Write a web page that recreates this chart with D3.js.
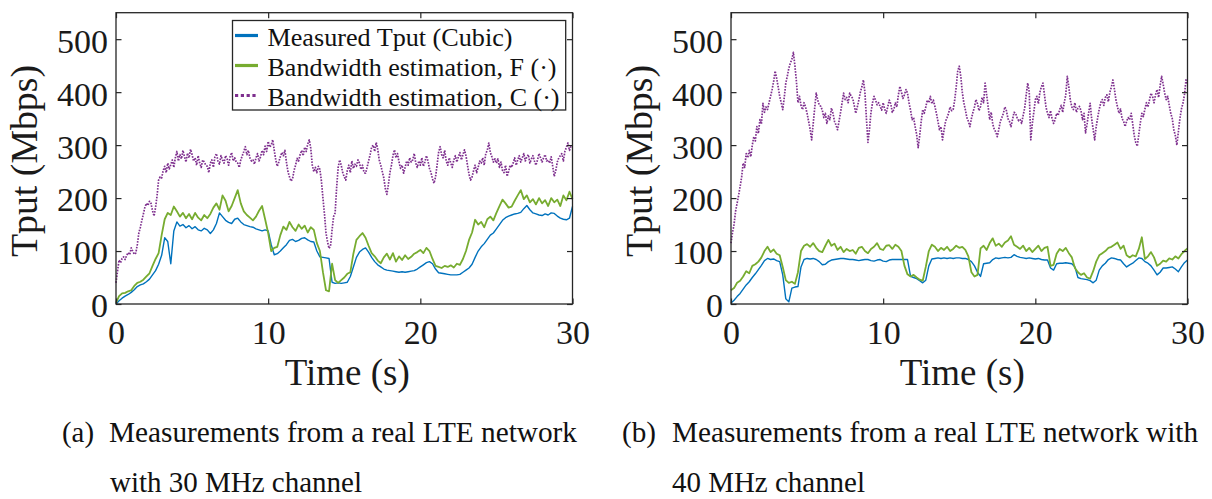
<!DOCTYPE html>
<html><head><meta charset="utf-8">
<script src="https://cdn.jsdelivr.net/npm/d3@7"></script>
<style>
body{margin:0;background:#fff}
svg{display:block}
</style>
</head><body>
<svg id="chart" width="1212" height="499"></svg>
<script>
// ---------- data ----------
const coarseStep = 0.2;   // seconds between samples of measured / F series
const fineStep = 0.1;     // seconds between samples of C series
const xTicks = [0, 10, 20, 30];
const yTicks = [0, 100, 200, 300, 400, 500];
const seriesNames = ["Measured Tput (Cubic)", "Bandwidth estimation, F (\u00B7)", "Bandwidth estimation, C (\u00B7)"];
const xLabel = "Time (s)";
const yLabel = "Tput (Mbps)";
const captionA = ["(a)", "Measurements from a real LTE network", "with 30 MHz channel"];
const captionB = ["(b)", "Measurements from a real LTE network with", "40 MHz channel"];

// panel (a): 30 MHz
const measuredA = [
0,6,11,15,18,22,27,33,36,38,
42,47,55,63,75,92,125,118,76,138,
155,147,150,144,148,142,146,140,138,143,
140,133,140,152,172,165,158,154,152,160,
162,155,150,148,146,145,142,140,138,140,
138,112,93,95,100,106,112,120,122,118,
120,124,125,121,118,117,100,89,88,87,
86,41,39,40,39,40,41,52,70,88,
98,103,106,98,88,80,74,70,66,64,
63,62,61,60,61,60,61,62,63,66,
70,74,78,80,76,66,59,58,57,56,
55,55,55,56,60,64,68,75,88,100,
108,114,122,130,134,142,150,158,163,166,
168,170,171,173,180,186,178,172,170,168,
167,170,168,172,171,166,162,160,159,162,
184];
const estFA = [
2,15,20,21,24,26,34,40,42,46,
52,58,72,85,96,130,160,172,168,184,
175,165,172,162,170,160,172,163,158,168,
162,170,182,190,178,205,195,175,185,200,
215,190,175,168,163,158,165,176,185,160,
134,100,106,108,130,146,140,155,145,138,
150,142,148,135,145,140,115,100,60,26,
24,76,45,40,45,50,57,60,95,121,
128,134,125,110,96,90,82,77,88,95,
84,96,80,90,83,92,85,89,95,98,
102,96,106,100,85,72,70,68,72,70,
73,69,76,74,85,100,121,135,159,150,
155,145,160,165,158,172,185,197,190,182,
184,195,205,215,198,205,192,198,188,200,
190,196,185,200,192,197,185,205,196,212,
198];
const estCA = [
40,62,83,78,86,89,84,92,97,93,
106,100,94,96,112,134,145,158,170,183,
190,186,194,190,176,166,182,205,234,240,
238,252,260,248,266,255,263,272,258,276,
288,270,282,274,290,278,268,285,276,292,
282,270,276,262,280,266,258,272,268,262,
260,248,266,272,258,278,284,270,264,280,
272,266,280,274,262,278,286,270,276,268,
266,258,272,280,288,297,282,290,276,270,
272,264,276,284,270,278,290,282,298,288,
307,296,300,310,290,272,260,268,278,286,
280,290,268,250,240,232,236,252,262,275,
270,282,290,280,296,288,302,310,294,262,
250,258,248,260,254,232,200,170,134,118,
105,110,140,165,172,220,258,272,262,248,
240,234,252,262,248,270,256,264,260,272,
266,254,262,248,247,258,270,282,296,300,
288,305,292,272,262,250,238,218,207,225,
248,262,280,291,276,284,268,256,262,247,
258,270,262,276,268,272,284,266,258,270,
262,276,260,268,280,270,256,248,236,228,
240,262,286,297,282,276,290,270,262,276,
266,258,272,280,268,278,286,272,282,291,
280,262,245,234,240,252,262,248,258,270,
266,276,262,284,290,304,286,278,268,274,
266,274,258,268,252,248,262,241,250,262,
258,266,276,262,272,280,268,276,284,270,
278,282,266,274,280,270,262,272,284,276,
268,276,282,270,272,266,278,260,241,252,
268,276,280,284,270,288,296,304,290,298,
297];

// panel (b): 40 MHz
const measuredB = [
2,7,14,20,28,36,42,50,57,65,
73,82,86,84,85,82,80,55,10,4,
30,32,33,70,84,86,85,86,84,80,
74,75,80,83,84,85,86,86,85,84,
84,83,82,83,84,84,82,81,83,84,
81,80,83,84,84,84,84,84,84,52,
50,48,44,40,45,72,85,86,87,86,
87,86,87,86,87,87,86,86,84,80,
72,60,52,76,77,78,84,87,86,87,
88,87,88,93,90,88,87,86,87,86,
85,86,84,83,83,68,64,76,77,77,
78,77,76,70,50,48,47,46,44,40,
45,64,72,77,84,87,86,84,83,76,
70,74,77,82,87,86,80,77,72,64,
55,60,68,68,69,70,66,61,70,78,
83];
const estFB = [
26,30,40,44,52,62,58,72,75,80,
88,100,108,98,103,95,92,70,45,40,
42,38,60,100,110,113,108,115,106,100,
98,110,121,110,114,102,108,98,104,100,
102,95,106,108,100,96,104,108,115,104,
102,110,111,104,112,108,100,72,56,52,
55,50,46,44,70,100,112,108,100,106,
102,108,100,104,110,106,108,102,90,60,
52,55,105,110,102,115,124,110,114,108,
116,120,128,112,108,104,110,100,106,98,
104,110,100,106,108,72,74,95,104,100,
106,96,88,68,60,55,58,50,48,62,
80,92,96,100,106,108,112,116,104,110,
92,88,92,90,104,126,85,90,98,88,
72,76,82,80,86,84,90,86,94,100,
105];
const estCB = [
115,135,150,175,190,205,222,240,266,258,
284,276,290,278,300,316,308,335,322,348,
340,379,362,372,367,380,392,405,420,440,
426,410,392,380,367,390,417,430,445,455,
462,475,450,420,380,392,375,367,380,372,
360,345,330,310,340,370,398,385,376,373,
366,352,360,341,355,348,370,360,345,338,
329,345,362,380,398,386,390,380,398,392,
388,375,360,372,385,400,410,423,400,350,
305,330,362,380,392,385,376,380,373,366,
380,368,360,372,385,378,362,367,380,372,
395,411,400,388,395,405,398,380,366,348,
352,335,320,295,318,345,367,360,372,385,
380,392,378,385,373,360,345,329,335,310,
328,345,352,360,372,365,367,385,410,440,
449,430,400,380,367,352,345,335,350,362,
372,386,378,365,373,390,380,417,395,372,
348,362,340,330,325,316,330,345,352,360,
372,365,350,345,335,348,362,360,352,346,
348,341,356,370,395,417,400,310,340,362,
386,392,378,400,410,417,395,372,360,352,
365,350,341,348,360,356,367,375,362,380,
395,430,410,385,372,367,380,362,370,373,
365,348,360,323,340,360,379,350,330,310,
335,352,368,380,386,375,390,395,382,400,
410,423,405,385,372,360,368,350,345,335,
345,352,348,360,340,318,305,298,320,342,
360,354,368,380,372,385,398,392,380,395,
405,390,412,430,415,398,386,392,375,360,
350,329,318,300,325,350,368,379,395,423,
415];

// ---------- font selection ----------
const fontCandidates = ["Liberation Serif", "Tinos", "Times New Roman", "Nimbus Roman", "Nimbus Roman No9 L",
                        "FreeSerif", "Noto Serif", "DejaVu Serif"];
const timesMetric = new Set(["Liberation Serif", "Tinos", "Times New Roman", "Nimbus Roman", "Nimbus Roman No9 L", "FreeSerif"]);
function fontAvailable(name) {
  const c = document.createElement("canvas").getContext("2d");
  const s = "Measurements from a real LTE network 0123456789 (Mbps)";
  let diff = false;
  ["monospace", "sans-serif"].forEach(fb => {
    c.font = `72px ${fb}`; const w0 = c.measureText(s).width;
    c.font = `72px "${name}", ${fb}`; const w1 = c.measureText(s).width;
    if (Math.abs(w0 - w1) > 0.5) diff = true;
  });
  return diff;
}
const chosenFont = fontCandidates.find(fontAvailable) || "serif";
const fontFamily = `"${chosenFont}", serif`;
const sizeScale = timesMetric.has(chosenFont) ? 1 : 0.93;

// force a reference width
function fitWidth(sel, w) {
  sel.attr("textLength", w).attr("lengthAdjust", "spacingAndGlyphs");
}

// ---------- drawing ----------
const colors = {measured: "#0072BD", estF: "#77AC30", estC: "#7E2F8E"};
const axisColor = "#262626";
const textColor = "#1a1a1a";
const svg = d3.select("#chart").attr("font-family", fontFamily);

const plotTop = 12.7, plotBottom = 304, plotWidth = 456.5;

function drawPanel(x0, measured, estF, estC, caption, capX, capWidths, withLegend) {
  const x = d3.scaleLinear().domain([0, 30]).range([x0, x0 + plotWidth]);
  const y = d3.scaleLinear().domain([0, 550]).range([plotBottom, plotTop]);
  const g = svg.append("g");

  const lineGen = (step) => d3.line().x((d, i) => x(i * step)).y(d => y(d));

  g.append("path").datum(measured).attr("fill", "none")
    .attr("stroke", colors.measured).attr("stroke-width", 1.4)
    .attr("stroke-linejoin", "round").attr("d", lineGen(coarseStep));
  g.append("path").datum(estF).attr("fill", "none")
    .attr("stroke", colors.estF).attr("stroke-width", 1.8)
    .attr("stroke-linejoin", "round").attr("d", lineGen(coarseStep));
  g.append("path").datum(estC).attr("fill", "none")
    .attr("stroke", colors.estC).attr("stroke-width", 1.7)
    .attr("stroke-dasharray", "1.6,1.3")
    .attr("stroke-linejoin", "round").attr("d", lineGen(fineStep));

  // axes
  const ax = (sel) => sel.attr("color", axisColor)
    .attr("font-family", fontFamily)
    .attr("font-size", 34 * sizeScale);
  const gb = g.append("g").attr("transform", `translate(0,${plotBottom})`)
    .call(d3.axisBottom(x).tickValues(xTicks).tickSizeInner(-5.5).tickSizeOuter(0).tickPadding(16))
    .call(ax);
  const gl = g.append("g").attr("transform", `translate(${x0},0)`)
    .call(d3.axisLeft(y).tickValues(yTicks).tickSizeInner(-5.5).tickSizeOuter(0).tickPadding(8))
    .call(ax);
  gl.selectAll("text").attr("dy", "0.38em");
  const gt = g.append("g").attr("transform", `translate(0,${plotTop})`)
    .call(d3.axisTop(x).tickValues(xTicks).tickSizeInner(-5.5).tickSizeOuter(0).tickFormat(""))
    .call(ax);
  const gr = g.append("g").attr("transform", `translate(${x0 + plotWidth},0)`)
    .call(d3.axisRight(y).tickValues(yTicks).tickSizeInner(-5.5).tickSizeOuter(0).tickFormat(""))
    .call(ax);
  [gb, gl, gt, gr].forEach(a => {
    a.select(".domain").remove();
    a.selectAll(".tick line").attr("stroke-width", 1.2);
    a.selectAll("text").attr("fill", textColor);
  });
  [gb, gl].forEach(a => a.selectAll(".tick text").each(function () {
    const t = d3.select(this);
    fitWidth(t, 17 * t.text().length);
  }));

  g.append("rect").attr("x", x0).attr("y", plotTop)
    .attr("width", plotWidth).attr("height", plotBottom - plotTop)
    .attr("fill", "none").attr("stroke", axisColor).attr("stroke-width", 1.3);

  // axis labels
  g.append("text").attr("x", x0 + plotWidth / 2 + 3).attr("y", 385)
    .attr("text-anchor", "middle").attr("font-size", 37 * sizeScale).attr("fill", textColor)
    .text(xLabel).call(fitWidth, 125);
  g.append("text").attr("transform", `translate(${x0 - 79},161) rotate(-90)`)
    .attr("text-anchor", "middle").attr("font-size", 37 * sizeScale).attr("fill", textColor)
    .text(yLabel).call(fitWidth, 192);

  // caption
  g.append("text").attr("x", capX[0]).attr("y", 442).attr("font-size", 29 * sizeScale).attr("fill", "#111")
    .text(caption[0]).call(fitWidth, capWidths[0]);
  g.append("text").attr("x", capX[1]).attr("y", 442).attr("font-size", 29 * sizeScale).attr("fill", "#111")
    .text(caption[1]).call(fitWidth, capWidths[1]);
  g.append("text").attr("x", capX[2]).attr("y", 492).attr("font-size", 29 * sizeScale).attr("fill", "#111")
    .text(caption[2]).call(fitWidth, capWidths[2]);

  if (withLegend) {
    const lg = g.append("g");
    lg.append("rect").attr("x", 232.5).attr("y", 20.5).attr("width", 333.2).attr("height", 89.5)
      .attr("fill", "#fff").attr("stroke", axisColor).attr("stroke-width", 1.3);
    const keys = [colors.measured, colors.estF, colors.estC];
    const legendWidths = [245, 289, 292];
    seriesNames.forEach((name, i) => {
      const ly = 35.5 + i * 30;
      const ln = lg.append("line").attr("x1", 235).attr("x2", 258).attr("y1", ly).attr("y2", ly)
        .attr("stroke", keys[i]).attr("stroke-width", 3.2);
      if (i === 2) ln.attr("stroke-dasharray", "3.2,2.6").attr("stroke-width", 3);
      lg.append("text").attr("x", 267.5).attr("y", ly + 10).attr("font-size", 26 * sizeScale)
        .attr("fill", "#111").text(name).call(fitWidth, legendWidths[i]);
    });
  }
}

drawPanel(116, measuredA, estFA, estCA, captionA, [62, 109, 110], [32, 468, 252], true);
drawPanel(731, measuredB, estFB, estCB, captionB, [622, 672, 672], [34, 526, 193], false);
</script>
</body></html>
